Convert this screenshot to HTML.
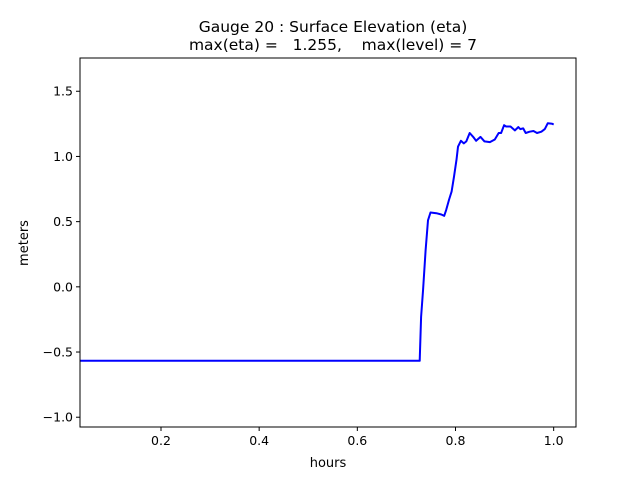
<!DOCTYPE html>
<html><head><meta charset="utf-8"><style>
body{margin:0;background:#fff}
svg{display:block;font-family:"DejaVu Sans","Liberation Sans",sans-serif}
</style></head><body>
<svg id="chart" width="640" height="480">
<rect width="640" height="480" fill="#fff"/>
<text x="333" y="32" text-anchor="middle" font-size="15.5">Gauge 20 : Surface Elevation (eta)</text>
<text x="333" y="50" text-anchor="middle" font-size="15.5" xml:space="preserve">max(eta) =   1.255,    max(level) = 7</text>
<g id="xt"></g>
<g id="yt"></g>
<path id="line" fill="none" stroke="#0000ff" stroke-width="2" stroke-linejoin="round"/>
<rect x="80" y="58" width="496" height="369" fill="none" stroke="#000" stroke-width="1"/>
<text x="328" y="467" text-anchor="middle" font-size="13">hours</text>
<text x="28" y="243" text-anchor="middle" font-size="13" transform="rotate(-90 28 243)">meters</text>
</svg>
<script>
const hours=[0.035,0.727,0.730,0.734,0.739,0.744,0.749,0.761,0.771,0.777,0.781,0.787,0.792,0.797,0.802,0.805,0.811,0.817,0.822,0.829,0.836,0.842,0.851,0.859,0.870,0.880,0.888,0.893,0.899,0.903,0.912,0.921,0.928,0.932,0.938,0.943,0.951,0.959,0.966,0.975,0.982,0.988,0.997,1.0];
const eta=[-0.567,-0.567,-0.23,-0.02,0.28,0.51,0.57,0.565,0.555,0.545,0.59,0.67,0.73,0.845,0.975,1.075,1.12,1.10,1.115,1.18,1.15,1.12,1.15,1.115,1.11,1.13,1.18,1.18,1.24,1.23,1.23,1.20,1.225,1.21,1.215,1.18,1.19,1.195,1.18,1.19,1.21,1.255,1.25,1.245];
const xTicks=[0.2,0.4,0.6,0.8,1.0];
const xTickLabels=["0.2","0.4","0.6","0.8","1.0"];
const yTicks=[-1.0,-0.5,0.0,0.5,1.0,1.5];
const yTickLabels=["−1.0","−0.5","0.0","0.5","1.0","1.5"];
const X0=80,X1=576,Y0=427,Y1=58,xmin=0.035,xmax=1.0455,ymin=-1.075,ymax=1.755;
const sx=v=>X0+(v-xmin)/(xmax-xmin)*(X1-X0);
const sy=v=>Y0-(v-ymin)/(ymax-ymin)*(Y0-Y1);
const NS="http://www.w3.org/2000/svg";
const xt=document.getElementById('xt'),yt=document.getElementById('yt');
xTicks.forEach((t,i)=>{
 const l=document.createElementNS(NS,'line');
 
 
 l.setAttribute('x1',sx(t));l.setAttribute('x2',sx(t));l.setAttribute('y1',Y0);l.setAttribute('y2',Y0+4);l.setAttribute('stroke','#000');
 xt.appendChild(l);
 const tx=document.createElementNS(NS,'text');
 
 
 tx.setAttribute('x',sx(t));tx.setAttribute('y',Y0+18);tx.setAttribute('text-anchor','middle');tx.setAttribute('font-size','12.5');
 tx.textContent=xTickLabels[i];xt.appendChild(tx);
});
yTicks.forEach((t,i)=>{
 const l=document.createElementNS(NS,'line');
 
 
 l.setAttribute('x1',X0-4);l.setAttribute('x2',X0);l.setAttribute('y1',sy(t));l.setAttribute('y2',sy(t));l.setAttribute('stroke','#000');
 yt.appendChild(l);
 const tx=document.createElementNS(NS,'text');
 
 
 tx.setAttribute('x',X0-7);tx.setAttribute('y',sy(t)+4.5);tx.setAttribute('text-anchor','end');tx.setAttribute('font-size','12.5');
 tx.textContent=yTickLabels[i];yt.appendChild(tx);
});
document.getElementById('line').setAttribute('d',hours.map((h,i)=>(i?'L':'M')+sx(h).toFixed(1)+','+sy(eta[i]).toFixed(1)).join(''));
</script>
</body></html>
